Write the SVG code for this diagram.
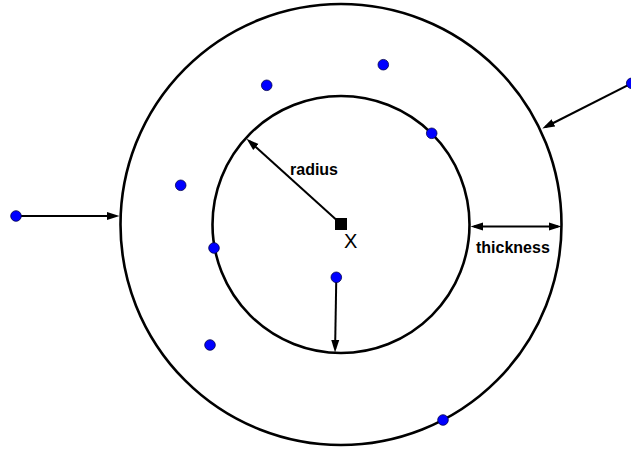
<svg xmlns="http://www.w3.org/2000/svg" width="631" height="450" viewBox="0 0 631 450">
<style>
.ring{fill:none;stroke:#000;stroke-width:2.6}
.edge{fill:none;stroke:#000;stroke-width:2}
.dot{fill:#0000ff;stroke:#00004d;stroke-width:0.8}
.lbl{font-family:"Liberation Sans",Arial,sans-serif;font-weight:bold;font-size:16px;fill:#000}
.x{font-family:"Liberation Sans",Arial,sans-serif;font-size:20px;fill:#000}
</style>
<defs>
<marker id="ah" markerUnits="userSpaceOnUse" markerWidth="13" markerHeight="9" refX="9" refY="4.5" orient="auto-start-reverse" viewBox="0 0 13 9">
<path d="M0,0.5 L12.5,4.5 L0,8.5 z" fill="#000"/>
</marker>
</defs>
<rect width="631" height="450" fill="#fff"/>
<g id="outer-circle"><circle class="ring" cx="341" cy="224.5" r="220.5"/></g>
<g id="inner-circle"><circle class="ring" cx="341" cy="224.5" r="128.5"/></g>
<g id="connectors">
<line class="edge" x1="341" y1="224" x2="249.2" y2="141" marker-end="url(#ah)"/>
<line class="edge" x1="631.7" y1="83.3" x2="545.4" y2="127" marker-end="url(#ah)"/>
<line class="edge" x1="16" y1="216" x2="116" y2="216" marker-end="url(#ah)"/>
<line class="edge" x1="336.3" y1="277.3" x2="335.1" y2="349" marker-end="url(#ah)"/>
<line class="edge" x1="474" y1="226.5" x2="558" y2="226.5" marker-start="url(#ah)" marker-end="url(#ah)"/>
</g>
<g id="center"><rect x="335" y="218" width="12" height="12" fill="#000"/><text class="x" x="344" y="247.5">X</text></g>
<g id="label-radius"><text class="lbl" x="290" y="174.5">radius</text></g>
<g id="label-thickness"><text class="lbl" x="476" y="252.5">thickness</text></g>
<g id="dots">
<circle class="dot" cx="266.7" cy="85.3" r="5.3"/>
<circle class="dot" cx="383.3" cy="64.7" r="5.3"/>
<circle class="dot" cx="431.7" cy="133.3" r="5.3"/>
<circle class="dot" cx="180.7" cy="185.3" r="5.3"/>
<circle class="dot" cx="214" cy="248" r="5.3"/>
<circle class="dot" cx="336.3" cy="277.3" r="5.3"/>
<circle class="dot" cx="210" cy="345" r="5.3"/>
<circle class="dot" cx="443" cy="420" r="5.3"/>
<circle class="dot" cx="16" cy="216" r="5.3"/>
<circle class="dot" cx="631.7" cy="83.3" r="5.3"/>
</g>
</svg>
